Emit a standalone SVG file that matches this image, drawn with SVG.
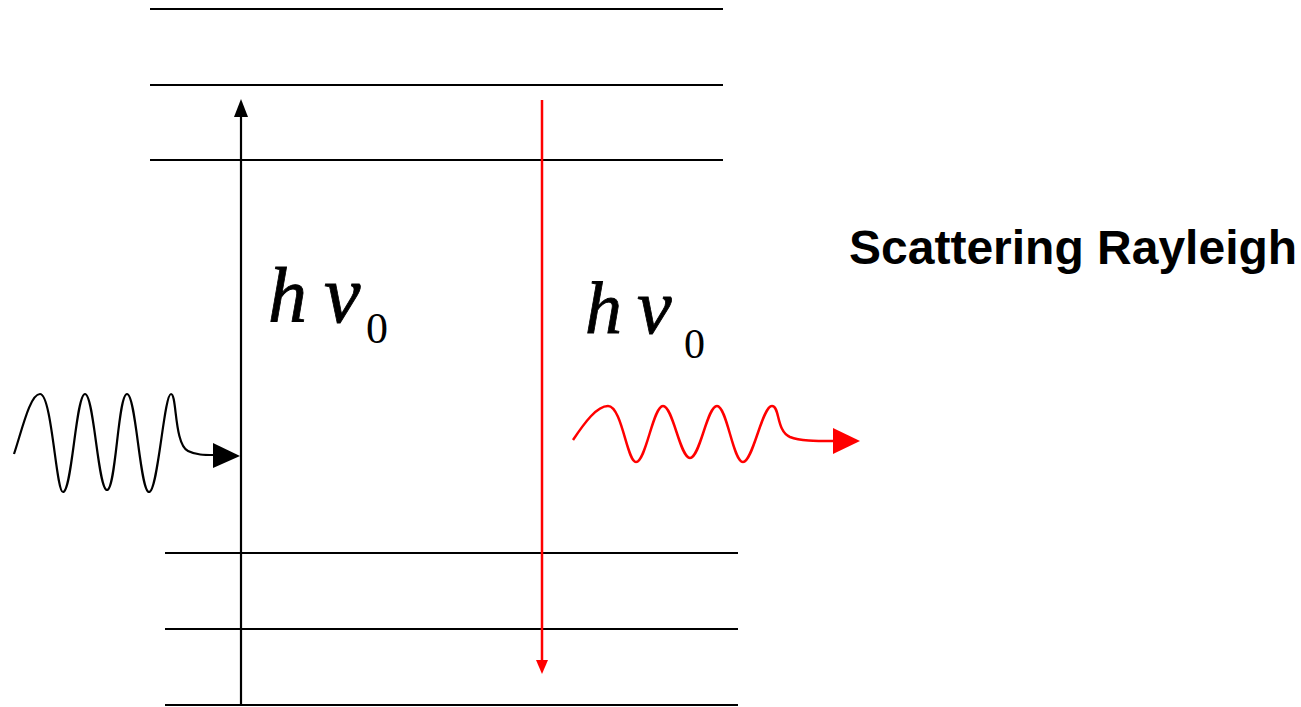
<svg xmlns="http://www.w3.org/2000/svg" width="1301" height="707" viewBox="0 0 1301 707">
<style>
.lvl{stroke:#000;stroke-width:2;fill:none}
.blk{stroke:#000;stroke-width:2.2;fill:none}
.red{stroke:#f00;stroke-width:2.5;fill:none}
.math{font-family:"Liberation Serif","Times New Roman",serif;font-style:italic;fill:#000;stroke:#000;stroke-width:0.8}
.sub{font-family:"Liberation Serif","Times New Roman",serif;fill:#000}
.title{font-family:"Liberation Sans",Arial,sans-serif;font-weight:bold;font-size:48px;fill:#000}
</style>
<rect width="1301" height="707" fill="#fff"/>
<g id="levels-upper">
<line class="lvl" x1="150" y1="9" x2="723" y2="9"/>
<line class="lvl" x1="150" y1="85" x2="723" y2="85"/>
<line class="lvl" x1="150" y1="160" x2="723" y2="160"/>
</g>
<g id="levels-lower">
<line class="lvl" x1="165" y1="553" x2="738" y2="553"/>
<line class="lvl" x1="165" y1="629" x2="738" y2="629"/>
<line class="lvl" x1="165" y1="705" x2="738" y2="705"/>
</g>
<g id="connectors">
<line class="blk" x1="241" y1="705" x2="241" y2="114"/>
<polygon points="234,117 241,99 248,117" fill="#000"/>
<line class="red" x1="542" y1="100" x2="542" y2="662"/>
<polygon points="536,660 548,660 542,674" fill="#f00"/>
</g>
<g id="incident-photon">
<path class="blk" d="M14,454 C22,430 30,394 40,394 C52,394 56,492 63,492 C72,492 76,394 85,394 C94,394 98,490 107,490 C116,490 118,394 127,394 C136,394 140,492 149,492 C158,492 164,394 171,394 C177,394 174,444 188,451 C196,455 204,455 214,455"/>
<polygon points="213,443 240,456 213,468" fill="#000"/>
</g>
<g id="scattered-photon">
<path class="red" d="M573,440 C585,422 597,406 608,406 C622,406 627,462 636,462 C646,462 653,406 663,406 C673,406 680,458 690,458 C700,458 707,406 717,406 C727,406 733,462 743,462 C753,462 762,406 772,406 C780,406 776,431 790,437 C800,441 815,441 834,441"/>
<polygon points="833,428 860,441 833,454" fill="#f00"/>
</g>
<g id="label-absorb">
<text class="math" x="268" y="322" font-size="78">h</text>
<text class="math" x="324" y="322" font-size="82">ν</text>
<text class="sub" x="366" y="343" font-size="44">0</text>
</g>
<g id="label-emit">
<text class="math" x="585" y="333" font-size="74">h</text>
<text class="math" x="637" y="333" font-size="78">ν</text>
<text class="sub" x="684" y="358" font-size="42">0</text>
</g>
<g id="title">
<text class="title" x="849" y="264">Scattering Rayleigh</text>
</g>
</svg>
